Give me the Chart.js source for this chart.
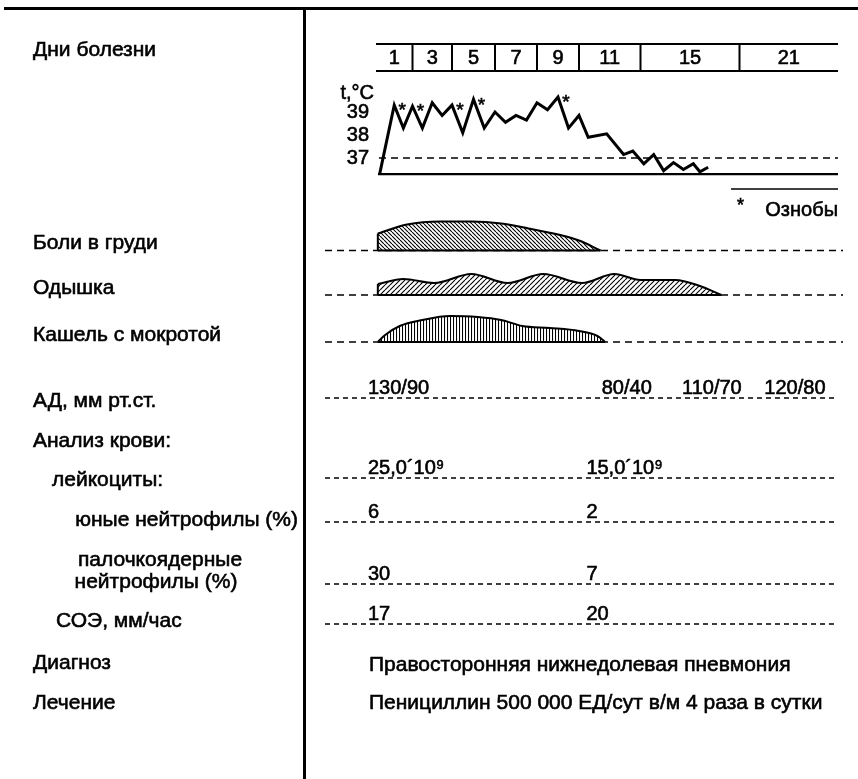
<!DOCTYPE html>
<html>
<head>
<meta charset="utf-8">
<script src="https://cdn.jsdelivr.net/npm/chart.js@4/dist/chart.umd.min.js"></script>
<style>
  html, body { margin: 0; padding: 0; background: #fff; }
  canvas { display: block; }
</style>
</head>
<body>
<canvas id="sheet" width="858" height="779"></canvas>
<script>
// header: days of illness
const dayLabels = ['1', '3', '5', '7', '9', '11', '15', '21'];
const dayStarts = [1, 3, 5, 7, 9, 11, 15, 21];
const lastDay = 27;

// temperature, morning / evening
const tempDays = [1.2, 2, 2.5, 3, 3.5, 4, 4.5, 5, 5.5, 6, 6.5, 7, 7.5, 8, 8.5, 9, 9.5, 10, 10.5, 11,
  11.6, 12.8, 13.9, 14.5, 15.2, 15.8, 16.4, 17, 17.6, 18.2, 18.6, 19.1];
const tempValues = [36.3, 39.3, 38.3, 39.25, 38.3, 39.4, 38.85, 39.3, 38.1, 39.55, 38.3, 39.0, 38.55, 38.85, 38.65, 39.4, 39.1, 39.65, 38.3, 38.85,
  37.9, 38.05, 37.15, 37.3, 36.75, 37.15, 36.45, 36.8, 36.5, 36.75, 36.4, 36.6];
const tempTicks = [37, 38, 39];
const tempFloor = 36.3;
const chillDays = [2, 3, 5, 6, 10];

// symptoms (relative intensity)
const painDays = [1.1, 2.7, 4.4, 5.9, 7.3, 8.6, 10, 11, 12.4];
const painLevel = [1.7, 2.6, 2.9, 2.9, 2.7, 2.2, 1.6, 1.0, 0];
const dyspDays = [1.1, 2.5, 4.1, 5.9, 7.6, 9.3, 11.2, 13.3, 15, 17.1, 18.6, 19.9];
const dyspLevel = [1.1, 1.6, 1.2, 2.1, 1.2, 2.1, 1.2, 2.1, 1.5, 1.5, 0.9, 0];
const coughDays = [1.1, 1.5, 2.3, 3.5, 4.9, 6.2, 7.3, 8.3, 9.6, 11, 12.2, 12.7];
const coughLevel = [0, 0.7, 1.6, 2.2, 2.6, 2.5, 2.2, 1.6, 1.4, 1.1, 0.6, 0];

// blood pressure
const bpDays = [1, 13, 18, 23];
const bpSys = [130, 80, 110, 120];
const bpDia = [90, 40, 70, 80];

// blood test
const bloodDays = [1, 12];
const leukocytes = [25.0, 15.0];
const youngNeutro = [6, 2];
const stabNeutro = [30, 7];
const esr = [17, 20];

const diagnosis = 'Правосторонняя нижнедолевая пневмония';
const treatment = 'Пенициллин 500 000 ЕД/сут в/м 4 раза в сутки';

// layout
const W = 858, H = 779;
const cellWidths = [36.5, 39.5, 43, 42, 42, 61.5, 99, 98.5];
const FONT = '"Liberation Sans", Arial, sans-serif';

// x axis: header cells are not equally wide, so map days piecewise
class DayScale extends Chart.LinearScale {
  static id = 'days';
  static defaults = {};
  dayToDecimal(v) {
    const edges = dayStarts.concat([lastDay]);
    const total = cellWidths.reduce((a, b) => a + b, 0);
    let acc = 0;
    for (let i = 0; i < cellWidths.length; i++) {
      const a = edges[i], b = edges[i + 1];
      if (v <= b || i === cellWidths.length - 1) {
        return (acc + (v - a) / (b - a) * cellWidths[i]) / total;
      }
      acc += cellWidths[i];
    }
  }
  getPixelForValue(v) {
    return v === null ? NaN : this.getPixelForDecimal(this.dayToDecimal(v));
  }
  getValueForPixel(p) {
    const edges = dayStarts.concat([lastDay]);
    const total = cellWidths.reduce((a, b) => a + b, 0);
    let d = this.getDecimalForPixel(p) * total;
    for (let i = 0; i < cellWidths.length; i++) {
      if (d <= cellWidths[i] || i === cellWidths.length - 1) {
        return edges[i] + d / cellWidths[i] * (edges[i + 1] - edges[i]);
      }
      d -= cellWidths[i];
    }
  }
}
Chart.register(DayScale);

// y range so that value v sits at pixel px, k pixels per unit
function band(v, px, k) {
  const max = v + px / k;
  return { min: max - H / k, max: max };
}

function hatch(kind, step) {
  const tile = document.createElement('canvas');
  tile.width = step;
  tile.height = step;
  const g = tile.getContext('2d');
  g.strokeStyle = '#000';
  g.lineWidth = 1.1;
  g.beginPath();
  if (kind === 'vertical') {
    g.moveTo(0.5, 0);
    g.lineTo(0.5, step);
  } else {
    for (const o of [-step, 0, step]) {
      if (kind === 'back') { g.moveTo(o, 0); g.lineTo(o + step, step); }
      else { g.moveTo(o, step); g.lineTo(o + step, 0); }
    }
  }
  g.stroke();
  return g.createPattern(tile, 'repeat');
}

// scanned print looks a bit heavy, so outline the glyphs slightly
function text(ctx, s, x, y, align, base, size) {
  ctx.font = (size || 20) + 'px ' + FONT;
  ctx.textAlign = align || 'left';
  ctx.textBaseline = base || 'middle';
  ctx.fillStyle = '#000';
  ctx.strokeStyle = '#000';
  ctx.lineWidth = 0.6;
  ctx.setLineDash([]);
  ctx.fillText(s, x, y);
  ctx.strokeText(s, x, y);
}

function hline(ctx, x0, x1, y, width, dash) {
  ctx.save();
  ctx.strokeStyle = '#000';
  ctx.lineWidth = width;
  ctx.setLineDash(dash || []);
  ctx.beginPath();
  ctx.moveTo(x0, y);
  ctx.lineTo(x1, y);
  ctx.stroke();
  ctx.restore();
}

const leftLabels = [
  ['Дни болезни', 33, 50, 'left'],
  ['Боли в груди', 33, 243, 'left'],
  ['Одышка', 33, 288, 'left'],
  ['Кашель с мокротой', 33, 335, 'left'],
  ['АД, мм рт.ст.', 33, 401, 'left'],
  ['Анализ крови:', 33, 441, 'left'],
  ['лейкоциты:', 52, 480, 'left'],
  ['юные нейтрофилы (%)', 298, 520, 'right'],
  ['палочкоядерные', 160, 560, 'center'],
  ['нейтрофилы (%)', 156, 582, 'center'],
  ['СОЭ, мм/час', 56, 621, 'left'],
  ['Диагноз', 33, 663, 'left'],
  ['Лечение', 33, 703, 'left']
];

const fmt = v => v.toFixed(1).replace('.', ',') + '´10⁹';
const tableRows = [
  { y: 398, days: bpDays, texts: bpSys.map((s, i) => s + '/' + bpDia[i]) },
  { y: 478, days: bloodDays, texts: leukocytes.map(fmt) },
  { y: 522, days: bloodDays, texts: youngNeutro.map(String) },
  { y: 584, days: bloodDays, texts: stabNeutro.map(String) },
  { y: 624, days: bloodDays, texts: esr.map(String) }
];

const symptomAxes = ['pain', 'dysp', 'cough'];

const sheet = {
  id: 'sheet',
  beforeDatasetsDraw(chart) {
    const ctx = chart.ctx;
    const x = chart.scales.x;
    const t = chart.scales.temp;
    const xL = x.getPixelForValue(dayStarts[0]);
    const xR = x.getPixelForValue(lastDay);
    ctx.save();

    // frame
    ctx.fillStyle = '#000';
    ctx.fillRect(4, 7, W - 4, 3);
    ctx.fillRect(303, 8, 3, H - 8);

    leftLabels.forEach(l => text(ctx, l[0], l[1], l[2], l[3], 'middle', 21));

    // header row with days
    ctx.fillStyle = '#000';
    ctx.fillRect(xL, 43, xR - xL, 2);
    ctx.fillRect(xL, 70, xR - xL, 2);
    dayStarts.forEach((d, i) => {
      const a = x.getPixelForValue(d);
      const b = x.getPixelForValue(i + 1 < dayStarts.length ? dayStarts[i + 1] : lastDay);
      if (i > 0) ctx.fillRect(a - 1, 44, 2, 27);
      text(ctx, dayLabels[i], (a + b) / 2, 58, 'center');
    });

    // temperature axis
    text(ctx, 't,°C', 374, t.getPixelForValue(tempTicks[2]) - 19, 'right');
    tempTicks.forEach(v => text(ctx, String(v), 369, t.getPixelForValue(v), 'right'));
    hline(ctx, xL + 3, xR, t.getPixelForValue(37), 1.6, [7, 5]);
    hline(ctx, xL + 2, xR, t.getPixelForValue(tempFloor), 2.2);

    // chills legend
    hline(ctx, 731, xR, 189, 1.6);
    text(ctx, '*', 737, 206, 'left', 'middle', 18);
    text(ctx, 'Ознобы', xR, 210, 'right');

    // symptom base lines
    symptomAxes.forEach(id => {
      hline(ctx, 325, 843, chart.scales[id].getPixelForValue(0), 1.5, [7, 5]);
    });

    // tabular rows
    tableRows.forEach(r => {
      hline(ctx, 325, xR, r.y, 1.4, [5, 4]);
      r.days.forEach((d, i) => text(ctx, r.texts[i], x.getPixelForValue(d) - 8, r.y - 4, 'left', 'alphabetic'));
    });

    text(ctx, diagnosis, 369, 665, 'left', 'middle', 21);
    text(ctx, treatment, 369, 703, 'left', 'middle', 21);
    ctx.restore();
  },
  afterDatasetsDraw(chart) {
    const ctx = chart.ctx;
    ctx.save();
    // chills marks next to the peaks
    const pts = chart.getDatasetMeta(0).data;
    tempDays.forEach((d, i) => {
      if (chillDays.includes(d)) {
        text(ctx, '*', pts[i].x + 8, pts[i].y + 6, 'center', 'middle', 19);
      }
    });
    // solid base and left edge under each symptom shape
    symptomAxes.forEach((id, k) => {
      const els = chart.getDatasetMeta(k + 1).data;
      const y0 = chart.scales[id].getPixelForValue(0);
      const first = els[0], last = els[els.length - 1];
      hline(ctx, first.x, last.x, y0, 2);
      ctx.strokeStyle = '#000';
      ctx.lineWidth = 2;
      ctx.beginPath();
      ctx.moveTo(first.x, first.y);
      ctx.lineTo(first.x, y0);
      ctx.stroke();
    });
    ctx.restore();
  }
};

function symptom(days, level, axis, pattern) {
  return {
    data: days.map((d, i) => ({ x: d, y: level[i] })),
    yAxisID: axis,
    borderColor: '#000',
    borderWidth: 2,
    backgroundColor: pattern,
    fill: 'origin',
    pointRadius: 0,
    cubicInterpolationMode: 'monotone'
  };
}

const ctx = document.getElementById('sheet').getContext('2d');
new Chart(ctx, {
  type: 'line',
  data: {
    datasets: [
      {
        data: tempDays.map((d, i) => ({ x: d, y: tempValues[i] })),
        yAxisID: 'temp',
        borderColor: '#000',
        borderWidth: 3,
        pointRadius: 0,
        tension: 0,
        fill: false
      },
      symptom(painDays, painLevel, 'pain', hatch('back', 4)),
      symptom(dyspDays, dyspLevel, 'dysp', hatch('forward', 5)),
      symptom(coughDays, coughLevel, 'cough', hatch('vertical', 3))
    ]
  },
  options: {
    responsive: false,
    animation: false,
    events: [],
    layout: { padding: { left: 376, right: 20, top: 0, bottom: 0 } },
    plugins: { legend: { display: false }, tooltip: { enabled: false } },
    scales: {
      x: { type: 'days', min: dayStarts[0], max: lastDay, bounds: 'data', display: false },
      temp: { axis: 'y', type: 'linear', bounds: 'data', display: false, ...band(37, 158, 23) },
      pain: { axis: 'y', type: 'linear', bounds: 'data', display: false, ...band(0, 250.5, 10) },
      dysp: { axis: 'y', type: 'linear', bounds: 'data', display: false, ...band(0, 295, 10) },
      cough: { axis: 'y', type: 'linear', bounds: 'data', display: false, ...band(0, 342, 10) }
    }
  },
  plugins: [sheet]
});
</script>
</body>
</html>
